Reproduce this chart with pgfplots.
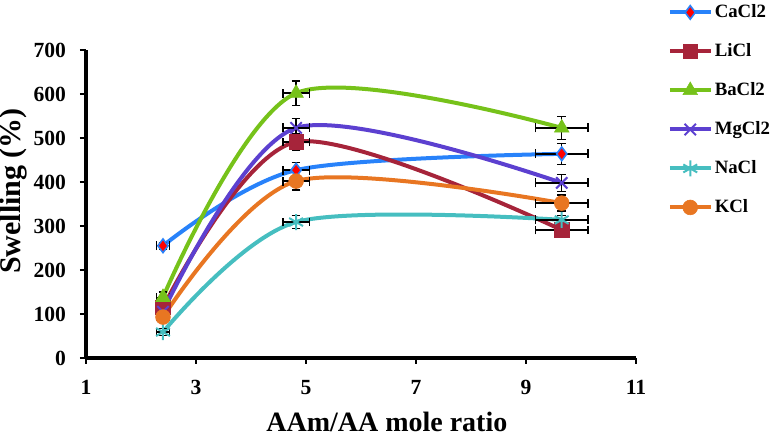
\documentclass[border=0pt]{standalone}
\usepackage{fontspec}
\setmainfont{Liberation Serif}
\usepackage{pgfplots}
\pgfplotsset{compat=1.18}
\definecolor{cca}{RGB}{40,130,250}
\definecolor{cli}{RGB}{166,36,58}
\definecolor{cba}{RGB}{118,194,26}
\definecolor{cmg}{RGB}{92,64,208}
\definecolor{cna}{RGB}{70,190,192}
\definecolor{ck}{RGB}{232,118,34}
\begin{document}
\begin{tikzpicture}
\path[use as bounding box] (-43pt,-39.5pt) rectangle (343.5pt,179pt);
\begin{axis}[
  at={(0,0)}, anchor=south west,
  scale only axis, width=275pt, height=154pt,
  xmin=1, xmax=11, ymin=0, ymax=700,
  xtick={1,3,5,7,9,11}, ytick={0,100,...,700},
  axis lines*=left, axis line style={-, line width=1.6pt},
  tick style={line width=1.2pt, black}, tick align=outside,
  major tick length=3pt,
  ticklabel style={font=\fontsize{10.8}{12}\selectfont\bfseries},
  /pgf/number format/assume math mode=true,
  xticklabel style={yshift=-4.5pt},
  yticklabel style={xshift=-3.5pt},
  xlabel={AAm/AA mole ratio},
  ylabel={Swelling (\%)},
  xlabel style={font=\fontsize{14}{16}\selectfont\bfseries, at={(axis description cs:0.547,-0.238)}, anchor=base},
  ylabel style={font=\fontsize{15}{17}\selectfont\bfseries, at={(axis description cs:-0.132,0.542)}, anchor=center},
  legend style={at={(axis description cs:1.057,1.159)}, anchor=north west,
    draw=none, fill=none, inner sep=0pt, row sep=8.5pt,
    font=\fontsize{9.4}{11}\selectfont\bfseries,
    nodes={inner sep=1pt, text height=7pt, text depth=2pt}},
  legend cell align=left,
  legend image code/.code={\draw[mark repeat=2,mark phase=2,#1] plot coordinates {(0pt,0pt) (10.25pt,0pt) (20.5pt,0pt)};},
  every axis plot/.append style={line width=2pt, smooth, tension=0.5},
  error bars/x dir=both, error bars/x explicit,
  error bars/y dir=both, error bars/y explicit,
  error bars/error bar style={black, line width=0.7pt, solid},
  error bars/error mark options={black, line width=0.7pt, mark size=2.2pt, rotate=90},
]
\addplot[color=cca, mark=diamond*, mark options={fill=red, draw=cca, line width=0.8pt, mark size=3.4pt}]
  coordinates {(2.4,255) +- (0.12,8) (4.82,427) +- (0.24,18) (9.65,464) +- (0.48,24)};
\addlegendentry{CaCl2}
\addplot[color=cli, mark=square*, mark options={fill=cli, line width=0.3pt, mark size=3.6pt}]
  coordinates {(2.4,115) +- (0.12,12) (4.82,491) +- (0.24,19) (9.65,291) +- (0.48,10)};
\addlegendentry{LiCl}
\addplot[color=cba, mark=triangle*, mark options={fill=cba, line width=0.3pt, mark size=4.2pt}]
  coordinates {(2.4,138) +- (0.12,12) (4.82,602) +- (0.24,28) (9.65,523) +- (0.48,26)};
\addlegendentry{BaCl2}
\addplot[color=cmg, mark=x, mark options={line width=1pt, mark size=4pt}]
  coordinates {(2.4,105) +- (0.12,10) (4.82,523) +- (0.24,22) (9.65,398) +- (0.48,19)};
\addlegendentry{MgCl2}
\addplot[color=cna, mark=asterisk, mark options={line width=1pt, mark size=4pt}]
  coordinates {(2.4,59) +- (0.12,8) (4.82,309) +- (0.24,15) (9.65,314) +- (0.48,10)};
\addlegendentry{NaCl}
\addplot[color=ck, mark=*, mark options={fill=ck, line width=0.3pt, mark size=3.7pt}]
  coordinates {(2.4,93) +- (0.12,8) (4.82,402) +- (0.24,20) (9.65,352) +- (0.48,18)};
\addlegendentry{KCl}
\end{axis}
\end{tikzpicture}
\end{document}
